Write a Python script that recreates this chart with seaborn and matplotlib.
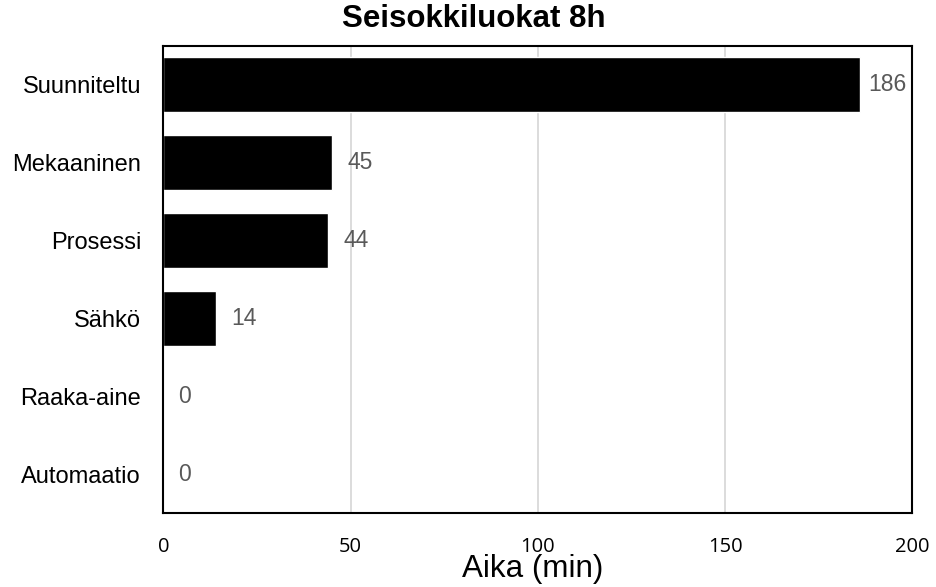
import matplotlib
matplotlib.use("Agg")
import matplotlib.pyplot as plt
import seaborn as sns
import pandas as pd

# Downtime categories over an 8 h shift
categories = ["Suunniteltu", "Mekaaninen", "Prosessi", "Sähkö", "Raaka-aine", "Automaatio"]
minutes = [186, 45, 44, 14, 0, 0]
x_ticks = [0, 50, 100, 150, 200]

sns.set_theme(style="white")
plt.rcParams["font.family"] = ["Liberation Sans", "DejaVu Sans"]

df = pd.DataFrame({"Luokka": categories, "Aika": minutes})

W, H = 937, 587
fig = plt.figure(figsize=(W / 100, H / 100), dpi=100)
ax = fig.add_axes([163.3 / W, 1 - 513.3 / H, (912.3 - 163.3) / W, (513.3 - 45.7) / H])

sns.barplot(data=df, x="Aika", y="Luokka", orient="h", color="black",
            saturation=1, width=0.71, ax=ax, zorder=3)

ax.set_xlim(0, 200)
ax.set_ylim(len(categories) - 0.5, -0.5)
ax.set_xticks(x_ticks)
ax.set_xticklabels([str(t) for t in x_ticks], fontfamily="Open Sans", fontsize=14.5, color="black")
ax.tick_params(axis="x", length=0, pad=17)
ax.tick_params(axis="y", length=0, pad=16, labelsize=17, labelcolor="black")

ax.grid(axis="x", color="#d9d9d9", linewidth=1.3, zorder=0)
ax.grid(axis="y", visible=False)
for s in ax.spines.values():
    s.set_visible(True)
    s.set_color("black")
    s.set_linewidth(1.5)
    s.set_zorder(4)

# value labels next to bars; keep the longest one inside the frame
xmax = ax.get_xlim()[1]
for i, v in enumerate(minutes):
    pad = 6 if v > 0.9 * xmax else 11
    ax.annotate(str(v), xy=(v, i), xytext=(pad, 0), textcoords="offset points",
                ha="left", va="center", fontsize=16.5, color="#595959")

ax.set_ylabel("")
ax.set_xlabel("Aika (min)", fontsize=22.6, color="black")
ax.xaxis.set_label_coords((533 - 163.3) / (912.3 - 163.3), (513.3 - 576.7) / (513.3 - 45.7))
ax.xaxis.label.set_va("baseline")

fig.text(474 / W, 1 - 27 / H, "Seisokkiluokat 8h", ha="center", va="baseline",
         fontsize=22.5, fontweight="bold", color="black")

fig.savefig("out.png", dpi=100, facecolor="white")
